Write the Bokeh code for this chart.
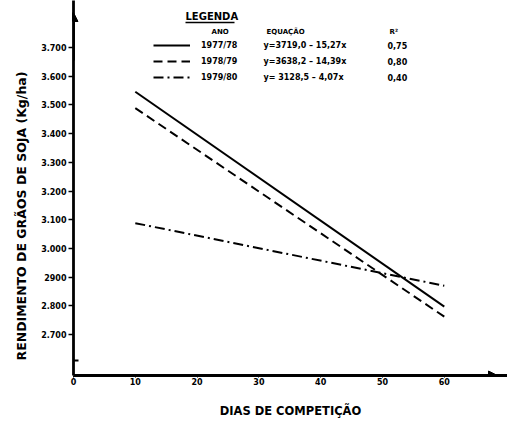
from bokeh.plotting import figure
from bokeh.models import FixedTicker, Label, Arrow, NormalHead, Legend, LegendItem, Title
from bokeh.embed import file_html
from bokeh.resources import INLINE

# ---------------- data ----------------
dias = [10, 60]
rend_1977_78 = [3546, 2797]
rend_1978_79 = [3489, 2762]
rend_1979_80 = [3088, 2870]

anos = ["1977/78", "1978/79", "1979/80"]
equacoes = ["y=3719,0 \u2013 15,27x", "y=3638,2 \u2013 14,39x", "y= 3128,5 \u2013 4,07x"]
r2_valores = ["0,75", "0,80", "0,40"]

x_ticks = [0, 10, 20, 30, 40, 50, 60]
y_ticks = [2700, 2800, 2900, 3000, 3100, 3200, 3300, 3400, 3500, 3600, 3700]
y_tick_labels = ["2.700", "2.800", "2900", "3.000", "3.100", "3.200",
                 "3.300", "3.400", "3.500", "3.600", "3.700"]

FONT = "DejaVu Sans"
INK = "black"

# frame bottom-left in canvas pixels (for screen-unit annotations)
FX0, FY0 = 73, 375
def sx(px):
    return px - FX0
def sy(py):
    return FY0 - py

p = figure(width=507, height=421, x_range=(0, 70.23), y_range=(2557, 3864),
           output_backend="svg", toolbar_location=None,
           min_border_left=73, min_border_right=0, min_border_top=0, min_border_bottom=46)
p.grid.visible = False
p.outline_line_color = None
p.background_fill_color = "white"

r1 = p.line(dias, rend_1977_78, line_color=INK, line_width=2)
r2 = p.line(dias, rend_1978_79, line_color=INK, line_width=2, line_dash="9 5")
r3 = p.line(dias, rend_1979_80, line_color=INK, line_width=2, line_dash="10 4 2 4")

# axes
xa = p.xaxis[0]
xa.ticker = FixedTicker(ticks=x_ticks)
xa.axis_line_width = 2.8
xa.axis_line_color = INK
xa.major_tick_out = 2
xa.major_tick_in = 0
xa.major_tick_line_color = INK
xa.minor_tick_line_color = None
xa.major_label_standoff = 0
xa.major_label_text_font = FONT
xa.major_label_text_font_style = "bold"
xa.major_label_text_font_size = "8px"
xa.major_label_text_color = INK
xa.axis_label = "DIAS DE COMPETI\u00c7\u00c3O"
xa.axis_label_standoff = 16
xa.axis_label_text_font = FONT
xa.axis_label_text_font_style = "bold"
xa.axis_label_text_font_size = "11.5px"
xa.axis_label_text_color = INK

ya = p.yaxis[0]
ya.ticker = FixedTicker(ticks=y_ticks)
ya.major_label_overrides = {v: l for v, l in zip(y_ticks, y_tick_labels)}
ya.axis_line_width = 2.8
ya.axis_line_color = INK
ya.major_tick_out = 5
ya.major_tick_in = 0
ya.major_tick_line_width = 1.5
ya.major_tick_line_color = INK
ya.minor_tick_line_color = None
ya.major_label_standoff = 2
ya.major_label_text_font = FONT
ya.major_label_text_font_style = "bold"
ya.major_label_text_font_size = "8px"
ya.major_label_text_color = INK

# y axis title as a side title (positioned along the axis)
p.add_layout(Title(text="RENDIMENTO DE GR\u00c3OS DE SOJA (Kg/ha)", align="left", offset=15,
                   vertical_align="top", standoff=16, text_font=FONT, text_color=INK,
                   text_font_style="bold", text_font_size="12.5px"), "left")

# axis arrows and break
p.add_layout(Arrow(end=NormalHead(size=9, fill_color=INK, line_color=INK),
                   x_start=0, y_start=sy(60), x_end=0, y_end=sy(12),
                   start_units="screen", end_units="screen", line_width=2.8, line_color=INK))
p.add_layout(Arrow(end=NormalHead(size=9, fill_color=INK, line_color=INK),
                   x_start=sx(460), y_start=0, x_end=sx(497), y_end=0,
                   start_units="screen", end_units="screen", line_width=2.8, line_color=INK))
p.add_layout(Arrow(end=None, x_start=-5, y_start=sy(360), x_end=5, y_end=sy(360),
                   start_units="screen", end_units="screen", line_width=2, line_color=INK))

# legend
legend = Legend(items=[LegendItem(label=a, renderers=[r]) for a, r in zip(anos, [r1, r2, r3])],
                location=(sx(153), sy(85)), padding=0, margin=0, spacing=0,
                glyph_width=37, glyph_height=16, label_height=16, label_standoff=11,
                label_text_font=FONT, label_text_font_style="bold", label_text_font_size="8px",
                label_text_color=INK, border_line_color=None, background_fill_alpha=0)
p.add_layout(legend)

p.add_layout(Label(x=sx(185), y=sy(16), x_units="screen", y_units="screen", text="LEGENDA",
                   text_align="left", text_baseline="middle", text_font=FONT, text_color=INK,
                   text_font_style="bold", text_font_size="10px"))
p.add_layout(Arrow(end=None, x_start=sx(185), y_start=sy(22), x_end=sx(234), y_end=sy(22),
                   start_units="screen", end_units="screen", line_width=1.5, line_color=INK))
for txt, px in [("ANO", 211), ("EQUA\u00c7\u00c3O", 266), ("R\u00b2", 389)]:
    p.add_layout(Label(x=sx(px), y=sy(31), x_units="screen", y_units="screen", text=txt,
                       text_align="left", text_baseline="middle", text_font=FONT, text_color=INK,
                       text_font_style="bold", text_font_size="7px"))
for i, (eq, r2v) in enumerate(zip(equacoes, r2_valores)):
    row_y = 45 + 16 * i
    p.add_layout(Label(x=sx(263), y=sy(row_y), x_units="screen", y_units="screen", text=eq,
                       text_align="left", text_baseline="middle", text_font=FONT, text_color=INK,
                       text_font_style="bold", text_font_size="8px"))
    p.add_layout(Label(x=sx(387), y=sy(row_y), x_units="screen", y_units="screen", text=r2v,
                       text_align="left", text_baseline="middle", text_font=FONT, text_color=INK,
                       text_font_style="bold", text_font_size="8px"))

open("out.html", "w").write(file_html(p, INLINE))
